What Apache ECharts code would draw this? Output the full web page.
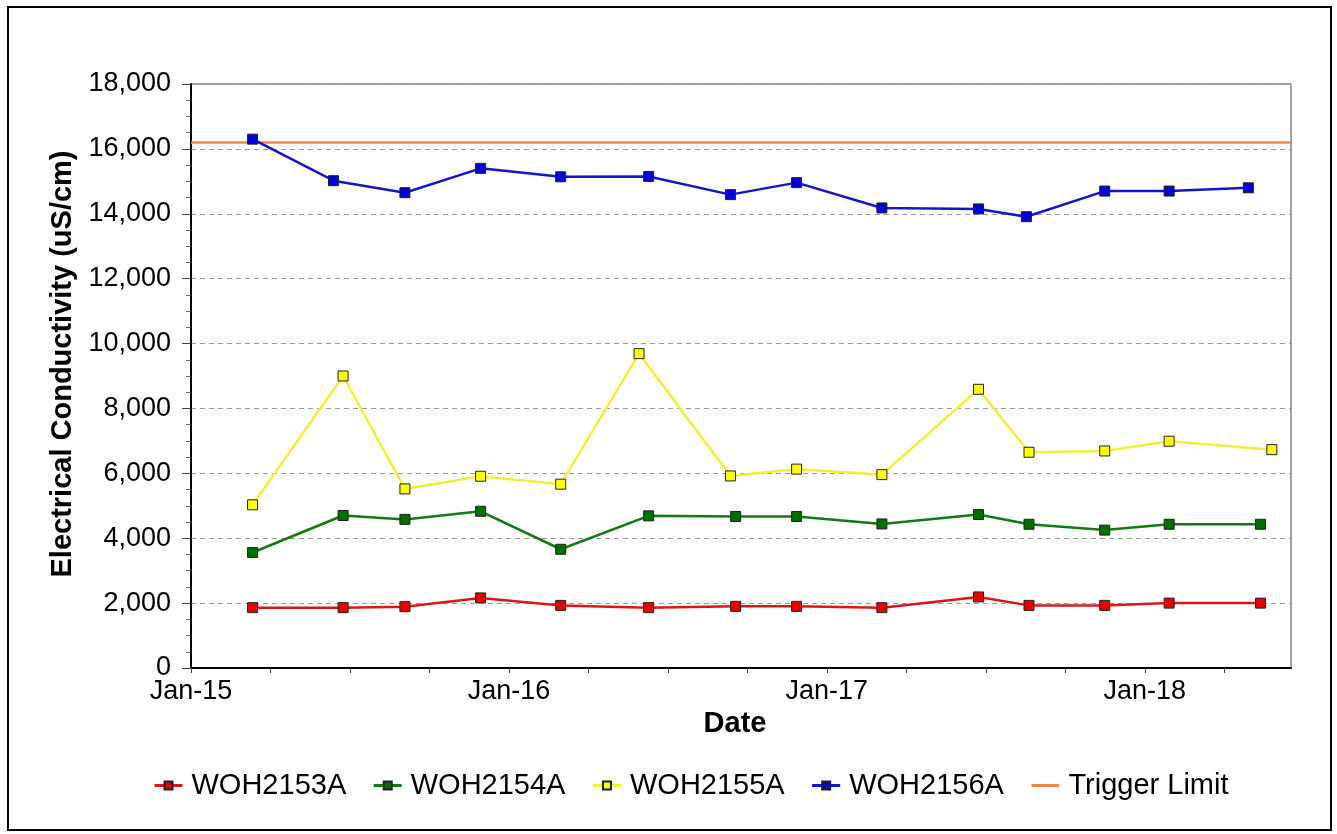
<!DOCTYPE html>
<html>
<head>
<meta charset="utf-8">
<title>Electrical Conductivity</title>
<script src="https://cdn.jsdelivr.net/npm/echarts@6/dist/echarts.min.js"></script>
<style>
    html, body {
        margin: 0;
        padding: 0;
        background: #ffffff;
    }
    #ecChart {
        width: 1337px;
        height: 834px;
    }
</style>
</head>
<body>
<div id="ecChart"></div>
<script>
// sampling dates for each well
var datesWOH2153A = ["2015-03-13", "2015-06-25", "2015-09-04", "2015-11-30", "2016-03-01", "2016-06-10", "2016-09-18",
    "2016-11-27", "2017-03-05", "2017-06-24", "2017-08-21", "2017-11-16", "2018-01-29", "2018-05-14"];
var datesWOH2154A = datesWOH2153A;
var datesWOH2155A = ["2015-03-13", "2015-06-25", "2015-09-04", "2015-11-30", "2016-03-01", "2016-05-30", "2016-09-12",
    "2016-11-27", "2017-03-05", "2017-06-24", "2017-08-21", "2017-11-16", "2018-01-29", "2018-05-27"];
var datesWOH2156A = ["2015-03-13", "2015-06-14", "2015-09-04", "2015-11-30", "2016-03-01", "2016-06-10", "2016-09-12",
    "2016-11-27", "2017-03-05", "2017-06-24", "2017-08-18", "2017-11-16", "2018-01-29", "2018-04-30"];

// electrical conductivity (uS/cm)
var valuesWOH2153A = [1860, 1860, 1890, 2160, 1930, 1860, 1900, 1900, 1860, 2190, 1930, 1930, 2000, 2000];
var valuesWOH2154A = [3560, 4700, 4580, 4830, 3660, 4690, 4670, 4670, 4440, 4730, 4430, 4250, 4430, 4430];
var valuesWOH2155A = [5030, 9000, 5520, 5910, 5665, 9690, 5920, 6130, 5960, 8590, 6650, 6690, 6990, 6730];
var valuesWOH2156A = [16300, 15020, 14650, 15400, 15140, 15150, 14590, 14960, 14180, 14150, 13910, 14700, 14700, 14800];

var triggerLimit = 16200;

var legendNames = ["WOH2153A", "WOH2154A", "WOH2155A", "WOH2156A", "Trigger Limit"];
var yearLabels = ["Jan-15", "Jan-16", "Jan-17", "Jan-18"];

// quarter of a year in ms; axis starts at 180 quarters (= Jan 2015)
var QUARTER = 91.3125 * 24 * 3600 * 1000;
var xMin = 180 * QUARTER;
var xMax = Date.parse("2018-06-18");

var FONT = "Liberation Sans";

function toPairs(dates, values) {
    let arr = [];
    for (let i = 0; i < dates.length; i++) {
        arr.push([Date.parse(dates[i]), values[i]]);
    }
    return arr;
}

function wellSeries(name, dates, values, lineColor, markColor) {
    return {
        name: name,
        type: "line",
        data: toPairs(dates, values),
        symbol: "rect",
        symbolSize: 10,
        showAllSymbol: true,
        lineStyle: {color: lineColor, width: 2.5},
        itemStyle: {color: markColor, borderColor: "#222222", borderWidth: 1},
        emphasis: {disabled: true},
        z: 5
    };
}

// legend entries; the trigger limit shows only its line
function legendData() {
    let arr = [];
    for (let i = 0; i < legendNames.length; i++) {
        if (legendNames[i] === "Trigger Limit") {
            arr.push({name: legendNames[i], itemStyle: {opacity: 0}});
        } else {
            arr.push({name: legendNames[i]});
        }
    }
    return arr;
}

var chartDom = document.getElementById("ecChart");
var myChart = echarts.init(chartDom);

var option = {
    backgroundColor: "#ffffff",
    animation: false,
    textStyle: {fontFamily: FONT},
    graphic: [{
        type: "rect",
        shape: {x: 8, y: 7, width: 1323, height: 823},
        style: {fill: null, stroke: "#000000", lineWidth: 2},
        silent: true
    }],
    grid: {
        left: 191,
        right: 46,
        top: 84,
        bottom: 166,
        show: true,
        borderColor: "#444444",
        borderWidth: 1
    },
    legend: {
        data: legendData(),
        left: 148,
        top: 766,
        itemWidth: 28,
        itemHeight: 10,
        itemGap: 26,
        lineStyle: {width: 3},
        textStyle: {fontFamily: FONT, fontSize: 29, color: "#000000", padding: [0, 0, 0, 4]}
    },
    xAxis: {
        type: "value",
        min: xMin,
        max: xMax,
        interval: QUARTER,
        name: "Date",
        nameLocation: "middle",
        nameGap: 39,
        nameTextStyle: {fontFamily: FONT, fontSize: 29, fontWeight: "bold", color: "#000000", padding: [0, 12, 0, 0]},
        axisLine: {show: true, onZero: false, lineStyle: {color: "#000000", width: 2}},
        axisTick: {show: true, inside: false, length: 5, lineStyle: {color: "#444444"}},
        splitLine: {show: false},
        axisLabel: {
            margin: 10,
            fontFamily: FONT,
            fontSize: 27,
            color: "#000000",
            showMaxLabel: false,
            formatter: function (value) {
                let k = Math.round((value - xMin) / QUARTER);
                if (k % 4 === 0 && yearLabels[k / 4]) {
                    return yearLabels[k / 4];
                }
                return "";
            }
        }
    },
    yAxis: {
        type: "value",
        min: 0,
        max: 18000,
        interval: 2000,
        name: "Electrical Conductivity (uS/cm)",
        nameLocation: "middle",
        nameGap: 109,
        nameTextStyle: {fontFamily: FONT, fontSize: 29, fontWeight: "bold", color: "#000000", padding: [0, 0, 0, 24]},
        axisLine: {show: true, lineStyle: {color: "#000000", width: 2}},
        axisTick: {show: true, length: 9, lineStyle: {color: "#444444"}},
        minorTick: {show: true, splitNumber: 4, length: 5, lineStyle: {color: "#666666"}},
        splitLine: {show: true, lineStyle: {color: "#999999", type: [5, 4], width: 1}},
        axisLabel: {
            margin: 20,
            fontFamily: FONT,
            fontSize: 27,
            color: "#000000",
            formatter: function (value) {
                return value.toLocaleString("en-US");
            }
        }
    },
    series: [
        wellSeries("WOH2153A", datesWOH2153A, valuesWOH2153A, "#d81818", "#e80000"),
        wellSeries("WOH2154A", datesWOH2154A, valuesWOH2154A, "#137a13", "#006e00"),
        wellSeries("WOH2155A", datesWOH2155A, valuesWOH2155A, "#f2ee3a", "#ffff00"),
        wellSeries("WOH2156A", datesWOH2156A, valuesWOH2156A, "#1414c8", "#0000dc"),
        {
            name: "Trigger Limit",
            type: "line",
            data: [[xMin, triggerLimit], [xMax, triggerLimit]],
            symbol: "none",
            lineStyle: {color: "#f0884a", width: 2.5},
            itemStyle: {color: "#f0884a"},
            emphasis: {disabled: true},
            z: 4
        }
    ]
};

option && myChart.setOption(option);
</script>
</body>
</html>
